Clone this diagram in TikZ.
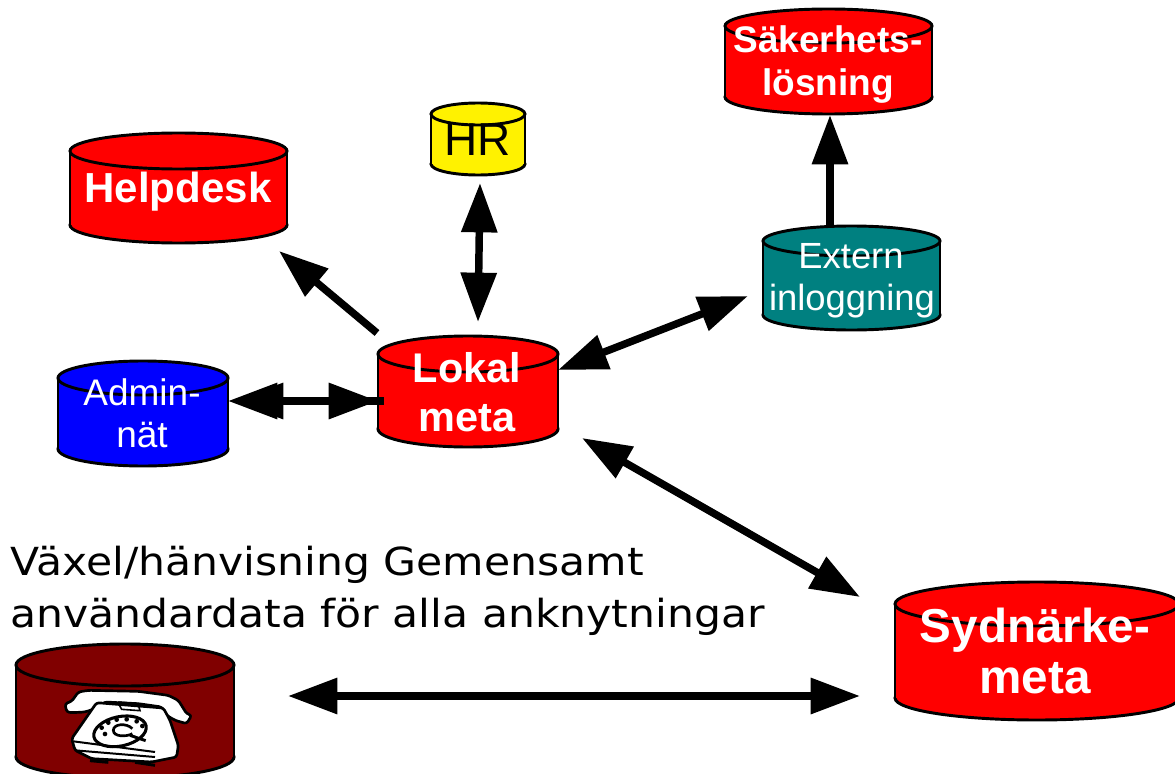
\documentclass[tikz,border=0pt]{standalone}
\usepackage{fontspec}
\setmainfont{Liberation Sans}
\newfontfamily\verdanalike{DejaVu Sans}
\usetikzlibrary{arrows.meta}
\newcommand{\dbcyl}[7]{% name, x1, x2, top, bottom, ry, colour
  \pgfmathsetmacro{\cx}{(#2+#3)/2}\pgfmathsetmacro{\rx}{(#3-#2)/2}
  \pgfmathsetmacro{\ct}{#4+#6}\pgfmathsetmacro{\cb}{#5-#6}
  \draw[cylline,fill=#7] (\cx,\cb) ellipse [x radius=\rx,y radius=#6];
  \fill[#7] (#2,\ct) rectangle (#3,\cb);
  \draw[cylline] (#2,\ct) -- (#2,\cb) (#3,\ct) -- (#3,\cb);
  \draw[cylline,fill=#7] (\cx,\ct) ellipse [x radius=\rx,y radius=#6];
  \coordinate (#1) at (\cx,{(#4+#5)/2});
}
\tikzset{
  cylline/.style={draw=black,line width=2.2pt},
  biglabel/.style={anchor=base,align=center,text=white,inner sep=0pt,font=\bfseries\fontsize{#1}{#1}\selectfont},
  smalllabel/.style={anchor=base,align=center,text=white,inner sep=0pt,font=\fontsize{#1}{#1}\selectfont},
  titletext/.style={anchor=base west,inner sep=0pt,xscale=1.1,font=\verdanalike\fontsize{29pt}{29pt}\selectfont},
  arrowline/.style={line width=5.6pt,draw=black},
  head/.style={-{Triangle[length=37pt,width=26pt]}},
  dhead/.style={{Triangle[length=37pt,width=26pt]}-{Triangle[length=37pt,width=26pt]}},
  phonepart/.style={fill=white,draw=black,line width=2pt,line join=round,rounded corners=2pt},
}
\begin{document}
\begin{tikzpicture}[x=0.75pt,y=-0.75pt]
\useasboundingbox (0,0) rectangle (1175,774);
\clip (0,0) rectangle (1175,774);
\dbcyl{helpdesk}{70}{287}{133}{243}{18}{red}
\dbcyl{hr}{431}{525}{103}{175}{11}{yellow}
\dbcyl{sak}{725}{932}{9}{114}{17}{red}
\dbcyl{ext}{763}{940}{226}{330}{15}{teal}
\dbcyl{lok}{378}{558}{336}{447}{18}{red}
\dbcyl{adm}{58}{228}{361}{466}{17}{blue}
\dbcyl{syd}{895}{1179}{582}{720}{22}{red}
\dbcyl{vax}{16}{234}{644}{778}{21}{red!50!black}

\node[biglabel=31.5pt] (helpdesklabel) at (178,202) {Helpdesk};
\node[smalllabel=34.5pt,text=black] (hrlabel) at (478,156) {HR};
\node[biglabel=27.75pt] (saklabel1) at (828,53) {Säkerhets-};
\node[biglabel=27.75pt] (saklabel2) at (828,96) {lösning};
\node[smalllabel=27.3pt] (extlabel1) at (851,268) {Extern};
\node[smalllabel=27.3pt] (extlabel2) at (852,310) {inloggning};
\node[biglabel=31.1pt] (loklabel1) at (467,382) {Lokal};
\node[biglabel=31.1pt] (loklabel2) at (467,431) {meta};
\node[smalllabel=27.75pt] (admlabel1) at (142,405) {Admin-};
\node[smalllabel=27.75pt] (admlabel2) at (142,447) {nät};
\node[biglabel=35.7pt] (sydlabel1) at (1035,642) {Sydnärke-};
\node[biglabel=35.7pt] (sydlabel2) at (1035,693) {meta};
\node[titletext] (title1) at (10,575) {Växel/hänvisning Gemensamt};
\node[titletext] (title2) at (10,627) {användardata för alla anknytningar};

% connector ends
\coordinate (helpS) at (377,333); \coordinate (helpT) at (279,251);
\coordinate (hrT) at (480,183); \coordinate (hrB) at (478,322);
\coordinate (admT) at (228,401); \coordinate (admT2) at (234,401);
\coordinate (lokW) at (384,401); \coordinate (lokW2) at (378,401);
\coordinate (lokE) at (558,370); \coordinate (extW) at (748,296);
\coordinate (lokSE) at (582,438); \coordinate (sydNW) at (860,597);
\coordinate (vaxE) at (288,696); \coordinate (sydW) at (860,696);
\coordinate (extN) at (830,228); \coordinate (sakS) at (830,115);

\draw[arrowline,head] (helpS) -- (helpT);
\draw[arrowline,dhead] (hrT) -- (hrB);
\draw[arrowline,head] (lokW) -- (admT);
\draw[arrowline,dhead] (admT2) -- (lokW2);
\draw[arrowline,dhead] (lokE) -- (extW);
\draw[arrowline,dhead] (lokSE) -- (sydNW);
\draw[arrowline,dhead] (vaxE) -- (sydW);
\draw[arrowline,head] (extN) -- (sakS);

% telephone
\begin{scope}[shift={(55,682)},xscale=1/3,yscale=1/3]
  \draw[line width=2.2pt] (105,236) -- (160,241) (240,241) -- (300,250);
  \draw[phonepart] (30,65) -- (50,58) -- (70,30) -- (100,25) -- (250,28) -- (340,40) -- (370,55) -- (395,95) -- (410,100) -- (395,125) -- (360,115) -- (335,100) -- (320,75) -- (250,65) -- (150,60) -- (120,80) -- (90,90) -- (50,92) -- (35,90) -- cycle;
  \draw[phonepart] (125,62) -- (325,78) -- (345,115) -- (370,190) -- (365,225) -- (290,240) -- (110,230) -- (60,205) -- (50,170) -- cycle;
  \draw[line width=1.5pt] (55,178) -- (300,210);
  \draw[line width=1.5pt] (60,205) -- (300,225);
  \draw[line width=2.2pt] (190,62) -- (260,68);
  \draw[line width=1.2pt] (190,64) -- (200,82) -- (255,86) -- (250,68);
  \draw[line width=2.3pt,rotate around={12:(195,148)}] (195,148) ellipse [x radius=80,y radius=44];
  \draw[line width=2pt] (232,140) .. controls (215,122) and (175,125) .. (175,145) .. controls (175,165) and (215,165) .. (232,155);
  \fill (150,156) circle (7) (140,137) circle (7) (160,122) circle (7) (185,113) circle (7) (215,112) circle (7) (245,118) circle (7) (262,132) circle (7);
  \draw[line width=2.2pt] (225,160) -- (272,176);
\end{scope}
\end{tikzpicture}
\end{document}
